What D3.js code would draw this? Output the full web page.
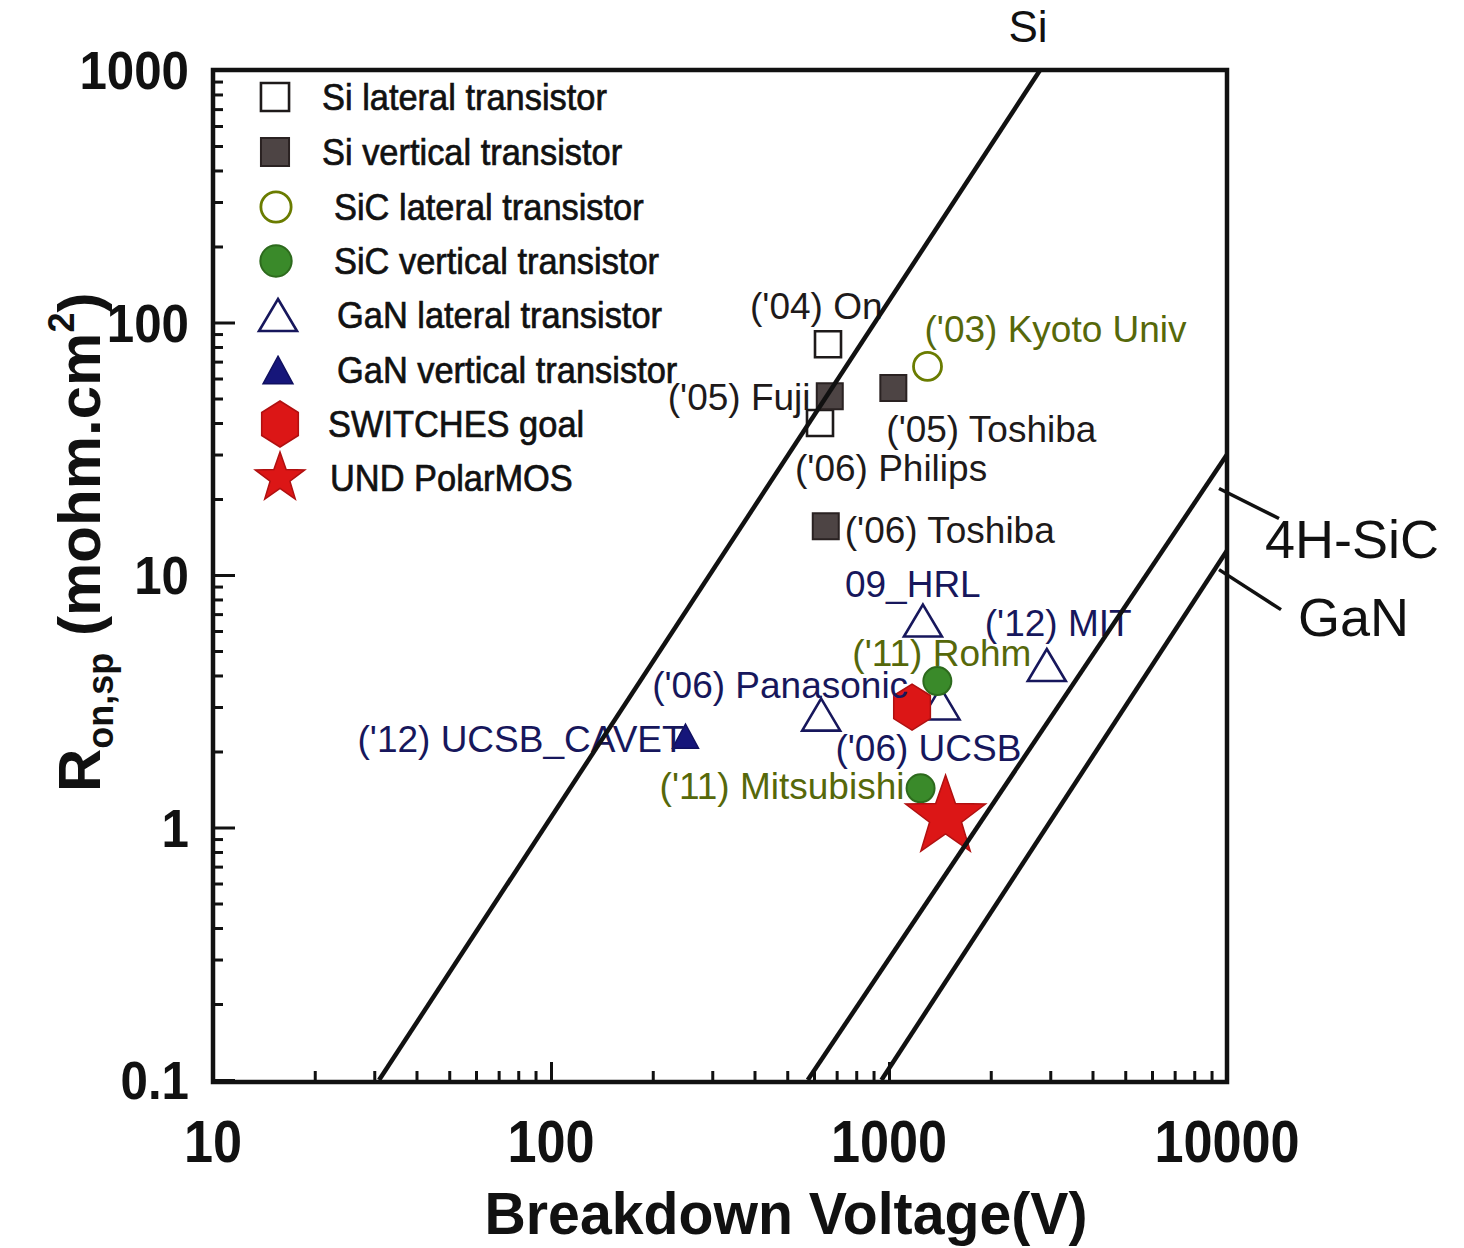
<!DOCTYPE html>
<html>
<head>
<meta charset="utf-8">
<script src="https://cdn.jsdelivr.net/npm/d3@7"></script>
<style>
  html, body { margin: 0; padding: 0; background: #ffffff; }
  svg { display: block; }
  text { font-family: "Liberation Sans", Arial, sans-serif; }
</style>
</head>
<body>
<svg id="chart" width="1464" height="1248"></svg>
<script>
// ---------------- DATA ----------------
const xTickValues = [10, 100, 1000, 10000];
const xTickLabels = ["10", "100", "1000", "10000"];
const yTickValues = [0.1, 1, 10, 100, 1000];
const yTickLabels = ["0.1", "1", "10", "100", "1000"];

// device categories (legend order)
const categories = [
  "Si lateral transistor",
  "Si vertical transistor",
  "SiC lateral transistor",
  "SiC vertical transistor",
  "GaN lateral transistor",
  "GaN vertical transistor",
  "SWITCHES goal",
  "UND PolarMOS"
];

// data points: breakdown voltage (V), Ron,sp (mohm.cm2)
const pointNames    = ["('04) On", "('06) Philips", "('05) Fuji", "('05) Toshiba", "('06) Toshiba",
                       "('03) Kyoto Univ", "('11) Rohm", "('11) Mitsubishi",
                       "09_HRL", "('12) MIT", "('06) Panasonic", "('06) UCSB",
                       "('12) UCSB_CAVET", "", ""];
const pointCategory = [0, 0, 1, 1, 1, 2, 3, 3, 4, 4, 4, 4, 5, 6, 7];
const pointVoltage  = [660, 625, 668, 1030, 650, 1300, 1390, 1240, 1260, 2930, 630, 1420, 250, 1170, 1470];
const pointRon      = [82, 40, 51, 55, 15.6, 67, 3.8, 1.43, 6.6, 4.4, 2.8, 3.1, 2.3, 3.0, 1.1];

// theoretical limit lines: [voltage, Ron]
const siLimit  = [[31, 0.1], [2800, 1000]];
const sicLimit = [[575, 0.1], [10000, 30]];
const ganLimit = [[950, 0.1], [10000, 12.5]];
const limitNames = ["Si", "4H-SiC", "GaN"];

// ---------------- LAYOUT / STYLE ----------------
const W = 1464, H = 1248;
const plot = { left: 213, right: 1227, top: 70, bottom: 1082 };

const x = d3.scaleLog().domain([10, 10000]).range([plot.left, plot.right]);
const y = d3.scaleLog().domain([0.1, 1000]).range([1080, plot.top]);

const svg = d3.select("#chart");
svg.append("rect").attr("width", W).attr("height", H).attr("fill", "#fff");

// marker styles per category
const black = "#1e1a1a", navy = "#17175c", olive = "#6a7c00", red = "#dc1616";
const catStyle = [
  { shape: "square",   fill: "#fff",    stroke: black,     sw: 2.6 },
  { shape: "square",   fill: "#4d4444", stroke: "#2a2222", sw: 2 },
  { shape: "circle",   fill: "#fff",    stroke: olive,     sw: 2.8 },
  { shape: "circle",   fill: "#3a8a2a", stroke: "#2d6a1d", sw: 2 },
  { shape: "triangle", fill: "#fff",    stroke: navy,      sw: 2.6 },
  { shape: "triangleS",fill: "#16167a", stroke: "#101060", sw: 1.5 },
  { shape: "hexagon",  fill: red,       stroke: "#b01010", sw: 1.5 },
  { shape: "star",     fill: red,       stroke: "#b01010", sw: 1.5 }
];
const labelColor = [black, black, "#56680a", "#56680a", navy, navy, black, black];

function shapePath(shape, scale) {
  const s = scale || 1;
  const p = d3.path();
  if (shape === "square") {
    const h = 13 * s; p.rect(-h, -h, 2 * h, 2 * h);
  } else if (shape === "circle") {
    p.arc(0, 0, 14 * s, 0, 2 * Math.PI); p.closePath();
  } else if (shape === "triangle") {
    const w = 19 * s, hh = 16 * s;
    p.moveTo(0, -hh); p.lineTo(w, hh); p.lineTo(-w, hh); p.closePath();
  } else if (shape === "triangleS") {
    const w = 13 * s, hh = 12 * s;
    p.moveTo(0, -hh); p.lineTo(w, hh); p.lineTo(-w, hh); p.closePath();
  } else if (shape === "hexagon") {
    const r = 23 * s;
    for (let i = 0; i < 6; i++) {
      const a = -Math.PI / 2 + i * Math.PI / 3;
      const px = r * Math.cos(a) * 0.92, py = r * Math.sin(a);
      if (i === 0) p.moveTo(px, py); else p.lineTo(px, py);
    }
    p.closePath();
  } else if (shape === "star") {
    const R = 42 * s, r = R * 0.40;
    for (let i = 0; i < 10; i++) {
      const a = -Math.PI / 2 + i * Math.PI / 5;
      const rr = i % 2 === 0 ? R : r;
      const px = rr * Math.cos(a), py = rr * Math.sin(a);
      if (i === 0) p.moveTo(px, py); else p.lineTo(px, py);
    }
    p.closePath();
  }
  return p.toString();
}

// ---------------- AXES (ticks inward) ----------------
const minorX = [], minorY = [];
for (let d = 10; d < 10000; d *= 10) for (let k = 2; k <= 9; k++) minorX.push(d * k);
for (let d = 0.1; d < 999; d *= 10) for (let k = 2; k <= 9; k++) minorY.push(+(d * k).toPrecision(3));

function styleAxis(g) {
  g.select(".domain").remove();
  g.selectAll(".tick line").attr("stroke", "#111").attr("stroke-width", 3);
}
svg.append("g").attr("transform", `translate(0,${plot.bottom})`)
  .call(d3.axisBottom(x).tickValues(minorX).tickSize(-11).tickFormat("")).call(styleAxis);
svg.append("g").attr("transform", `translate(0,${plot.bottom})`)
  .call(d3.axisBottom(x).tickValues(xTickValues).tickSize(-20).tickFormat("")).call(styleAxis);
svg.append("g").attr("transform", `translate(${plot.left},0)`)
  .call(d3.axisLeft(y).tickValues(minorY).tickSize(-10).tickFormat("")).call(styleAxis);
svg.append("g").attr("transform", `translate(${plot.left},0)`)
  .call(d3.axisLeft(y).tickValues(yTickValues).tickSize(-22).tickFormat("")).call(styleAxis);

// tick labels
svg.append("g").selectAll("text").data(xTickValues).join("text")
  .attr("transform", d => `translate(${x(d)},1162) scale(0.87,1)`)
  .attr("text-anchor", "middle").attr("font-size", 60).attr("font-weight", "bold")
  .attr("fill", "#111").text((d, i) => xTickLabels[i]);
svg.append("g").selectAll("text").data(yTickValues).join("text")
  .attr("transform", d => `translate(189,${y(d) + 19}) scale(0.93,1)`)
  .attr("text-anchor", "end").attr("font-size", 53).attr("font-weight", "bold")
  .attr("fill", "#111").text((d, i) => yTickLabels[i]);

// axis titles
svg.append("text").attr("transform", "translate(786,1234) scale(0.97,1)")
  .attr("text-anchor", "middle").attr("font-size", 59).attr("font-weight", "bold")
  .attr("fill", "#111").text("Breakdown Voltage(V)");

const yt = svg.append("text").attr("transform", "translate(100,792) rotate(-90)")
  .attr("font-size", 60).attr("font-weight", "bold").attr("fill", "#111");
yt.append("tspan").text("R");
yt.append("tspan").attr("font-size", 36).attr("dy", 13).text("on,sp");
yt.append("tspan").attr("dy", -13).text(" (mohm.cm");
yt.append("tspan").attr("font-size", 36).attr("dy", -26).text("2");
yt.append("tspan").attr("dy", 26).text(")");

// ---------------- MARKERS ----------------
const pts = pointVoltage.map((v, i) => ({ v, r: pointRon[i], c: pointCategory[i], name: pointNames[i] }));
const drawOrder = [0, 1, 2, 3, 4, 5, 8, 9, 10, 12, 11, 6, 13, 7, 14];
svg.append("g").selectAll("path").data(drawOrder.map(i => pts[i])).join("path")
  .attr("transform", d => `translate(${x(d.v)},${y(d.r)})`)
  .attr("d", d => shapePath(catStyle[d.c].shape, 1))
  .attr("fill", d => catStyle[d.c].fill)
  .attr("stroke", d => catStyle[d.c].stroke)
  .attr("stroke-width", d => catStyle[d.c].sw);

// ---------------- POINT LABELS ----------------
// label offsets (px) relative to each point: [dx, dy] to text start / baseline
const labelOffset = [[-78, -25], [-25, 58], [-162, 14], [-7, 54], [19, 17],
                     [-3, -24], [-85, -15], [-261, 11],
                     [-78, -24], [-62, -29], [-169, -17], [-105, 58],
                     [-328, 16], [0, 0], [0, 0]];
svg.append("g").selectAll("text").data(pts.filter(d => d.name !== "")).join("text")
  .attr("x", d => x(d.v) + labelOffset[pts.indexOf(d)][0])
  .attr("y", d => y(d.r) + labelOffset[pts.indexOf(d)][1])
  .attr("font-size", 37).attr("fill", d => labelColor[d.c])
  .text(d => d.name);

// ---------------- LIMIT LINES ----------------
const line = d3.line().x(d => x(d[0])).y(d => y(d[1]));
svg.append("g").selectAll("path").data([siLimit, sicLimit, ganLimit]).join("path")
  .attr("d", line).attr("fill", "none").attr("stroke", "#111").attr("stroke-width", 4.5);

// limit-line names
svg.append("text").attr("x", 1028).attr("y", 42).attr("text-anchor", "middle")
  .attr("font-size", 44).attr("fill", "#111").text(limitNames[0]);
// leader lines for 4H-SiC and GaN
const leaders = [{ r: 22, dx: 60, dy: 30, tx: 1265, ty: 558 }, { r: 10.5, dx: 62, dy: 40, tx: 1298, ty: 636 }];
leaders.forEach((l, i) => {
  const x0 = x(10000) - 8, y0 = y(l.r);
  svg.append("line").attr("x1", x0).attr("y1", y0).attr("x2", x0 + l.dx).attr("y2", y0 + l.dy)
    .attr("stroke", "#111").attr("stroke-width", 3.5);
  svg.append("text").attr("x", l.tx).attr("y", l.ty).attr("font-size", 54).attr("fill", "#111")
    .text(limitNames[i + 1]);
});

// ---------------- FRAME ----------------
svg.append("rect").attr("x", plot.left).attr("y", plot.top)
  .attr("width", plot.right - plot.left).attr("height", plot.bottom - plot.top)
  .attr("fill", "none").attr("stroke", "#111").attr("stroke-width", 4.5);

// ---------------- LEGEND ----------------
const legendY = [97, 152, 207, 261, 315, 370, 424, 478];
const legendTextX = [322, 322, 334, 334, 337, 337, 328, 330];
const legendSymX = [275, 275, 276, 276, 278, 278, 280, 280];
const legendScale = [1.08, 1.08, 1.08, 1.12, 1.0, 1.15, 1.0, 0.62];
const lg = svg.append("g");
categories.forEach((c, i) => {
  const st = catStyle[i];
  lg.append("path").attr("transform", `translate(${legendSymX[i]},${legendY[i]})`)
    .attr("d", shapePath(st.shape, legendScale[i]))
    .attr("fill", st.fill).attr("stroke", st.stroke).attr("stroke-width", st.sw);
  lg.append("text").attr("transform", `translate(${legendTextX[i]},${legendY[i] + 13}) scale(0.93,1)`)
    .attr("font-size", 37).attr("fill", "#111").attr("stroke", "#111").attr("stroke-width", 0.7)
    .text(c);
});
</script>
</body>
</html>
